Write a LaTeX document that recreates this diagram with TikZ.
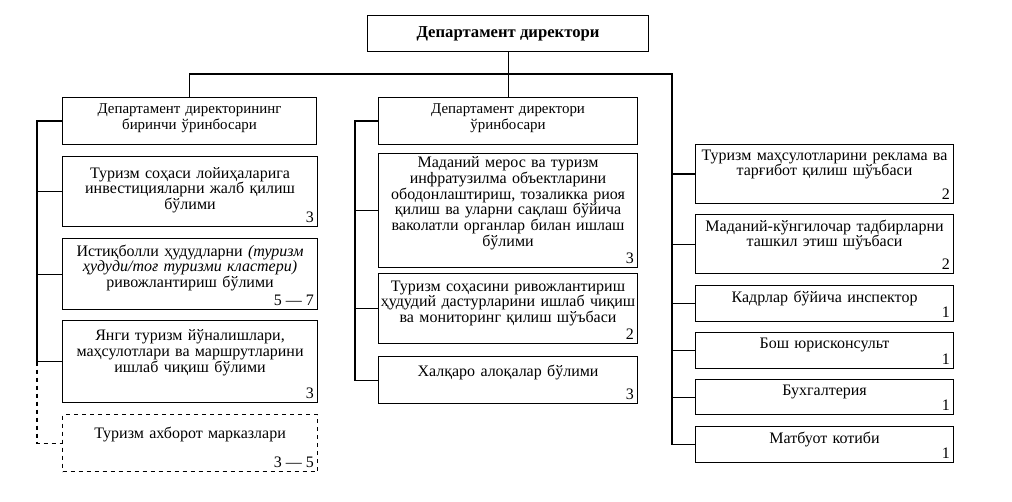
\documentclass[tikz,border=0pt]{standalone}
\usepackage{fontspec}
\setmainfont{Liberation Serif}
\usetikzlibrary{positioning}

\def\pxu{0.75pt}
\tikzset{
  unit/.style={draw, line width=0.8pt, anchor=north west, inner sep=0pt},
  dashunit/.style={unit, dashed},
  unittext/.style={anchor=north, align=center, inner sep=0pt, yshift=-4pt,
    font=\fontsize{12}{11.8}\selectfont},
  headtext/.style={unittext, font=\fontsize{11.2}{12}\selectfont},
  unitnum/.style={anchor=south east, inner sep=3pt, font=\fontsize{12}{12}\selectfont},
  link/.style={line width=0.8pt}
}

\begin{document}
\begin{tikzpicture}[x=\pxu, y=-\pxu]
\useasboundingbox (0,0) rectangle (1012,502);

% director
\node[unit, minimum width=281*\pxu, minimum height=36*\pxu,
  font=\bfseries\fontsize{12.5}{13}\selectfont] (dir) at (367,15) {Департамент директори};

% left column
\node[unit, minimum width=254*\pxu, minimum height=47*\pxu] (L1) at (62,97) {};
\node[headtext, text width=245*\pxu] (L1t) at ([yshift=-0.75pt]L1.north) {Департамент директорининг\\биринчи ўринбосари};
\node[unit, minimum width=255*\pxu, minimum height=70*\pxu] (L2) at (62,156) {};
\node[unittext, text width=245*\pxu] (L2t) at ([yshift=-4.25pt]L2.north) {Туризм соҳаси лойиҳаларига\\инвестицияларни жалб қилиш\\бўлими};
\node[unitnum] (L2n) at (L2.south east) {3};
\node[unit, minimum width=255*\pxu, minimum height=71*\pxu] (L3) at (62,238) {};
\node[unittext, text width=245*\pxu] (L3t) at ([yshift=-0.75pt]L3.north) {Истиқболли ҳудудларни \textit{(туризм}\\\textit{ҳудуди/тоғ туризми кластери)}\\ривожлантириш бўлими};
\node[unitnum] (L3n) at (L3.south east) {5 — 7};
\node[unit, minimum width=255*\pxu, minimum height=82*\pxu] (L4) at (62,320) {};
\node[unittext, text width=245*\pxu] (L4t) at ([yshift=-3.25pt]L4.north) {Янги туризм йўналишлари,\\маҳсулотлари ва маршрутларини\\ишлаб чиқиш бўлими};
\node[unitnum] (L4n) at (L4.south east) {3};
\node[dashunit, minimum width=255*\pxu, minimum height=57*\pxu] (L5) at (62,414) {};
\node[unittext, text width=245*\pxu] (L5t) at ([yshift=-5.25pt]L5.north) {Туризм ахборот марказлари};
\node[unitnum] (L5n) at (L5.south east) {3 — 5};

% middle column
\node[unit, minimum width=259*\pxu, minimum height=47*\pxu] (M1) at (378,97) {};
\node[headtext, text width=250*\pxu] (M1t) at ([yshift=-0.75pt]M1.north) {Департамент директори\\ўринбосари};
\node[unit, minimum width=259*\pxu, minimum height=114*\pxu] (M2) at (378,153) {};
\node[unittext, text width=255*\pxu] (M2t) at ([yshift=1.5pt]M2.north) {Маданий мерос ва туризм\\инфратузилма объектларини\\ободонлаштириш, тозаликка риоя\\қилиш ва уларни сақлаш бўйича\\ваколатли органлар билан ишлаш\\бўлими};
\node[unitnum] (M2n) at (M2.south east) {3};
\node[unit, minimum width=259*\pxu, minimum height=70*\pxu] (M3) at (378,273) {};
\node[unittext, text width=255*\pxu] (M3t) at ([yshift=-1.5pt]M3.north) {Туризм соҳасини ривожлантириш\\ҳудудий дастурларини ишлаб чиқиш\\ва мониторинг қилиш шўъбаси};
\node[unitnum] (M3n) at (M3.south east) {2};
\node[unit, minimum width=259*\pxu, minimum height=47*\pxu] (M4) at (378,356) {};
\node[unittext, text width=255*\pxu] (M4t) at ([yshift=-2.25pt]M4.north) {Халқаро алоқалар бўлими};
\node[unitnum] (M4n) at (M4.south east) {3};

% right column
\node[unit, minimum width=258*\pxu, minimum height=59*\pxu] (R1) at (695,144) {};
\node[unittext, text width=255*\pxu] (R1t) at (R1.north) {Туризм маҳсулотларини реклама ва\\тарғибот қилиш шўъбаси};
\node[unitnum] (R1n) at (R1.south east) {2};
\node[unit, minimum width=258*\pxu, minimum height=59*\pxu] (R2) at (695,214) {};
\node[unittext, text width=255*\pxu] (R2t) at (R2.north) {Маданий-кўнгилочар тадбирларни\\ташкил этиш шўъбаси};
\node[unitnum] (R2n) at (R2.south east) {2};
\node[unit, minimum width=258*\pxu, minimum height=36*\pxu] (R3) at (695,285) {};
\node[unittext, text width=255*\pxu] (R3t) at (R3.north) {Кадрлар бўйича инспектор};
\node[unitnum] (R3n) at (R3.south east) {1};
\node[unit, minimum width=258*\pxu, minimum height=36*\pxu] (R4) at (695,332) {};
\node[unittext, text width=255*\pxu] (R4t) at (R4.north) {Бош юрисконсульт};
\node[unitnum] (R4n) at (R4.south east) {1};
\node[unit, minimum width=258*\pxu, minimum height=35*\pxu] (R5) at (695,379) {};
\node[unittext, text width=255*\pxu] (R5t) at (R5.north) {Бухгалтерия};
\node[unitnum] (R5n) at (R5.south east) {1};
\node[unit, minimum width=258*\pxu, minimum height=36*\pxu] (R6) at (695,426) {};
\node[unittext, text width=255*\pxu] (R6t) at (R6.north) {Матбуот котиби};
\node[unitnum] (R6n) at (R6.south east) {1};

% connectors
\coordinate (busR) at (672,74);
\coordinate (spineL) at (37,0);
\coordinate (spineM) at (355,0);
\draw[link] (dir.south) -- (M1.north);
\draw[link] (L1.north) |- (busR) -- (busR |- R6.west) -- (R6.west);
\foreach \n in {R1,R2,R3,R4,R5}
  \draw[link] (\n.west) -- (\n.west -| busR);
\draw[link] (L1.west) -- (L1.west -| spineL) |- (L4.west);
\foreach \n in {L2,L3}
  \draw[link] (\n.west) -- (\n.west -| spineL);
\draw[link, dashed] (L4.west -| spineL) |- (L5.west);
\draw[link] (M1.west) -- (M1.west -| spineM) |- (M4.west);
\foreach \n in {M2,M3}
  \draw[link] (\n.west) -- (\n.west -| spineM);

\end{tikzpicture}
\end{document}
